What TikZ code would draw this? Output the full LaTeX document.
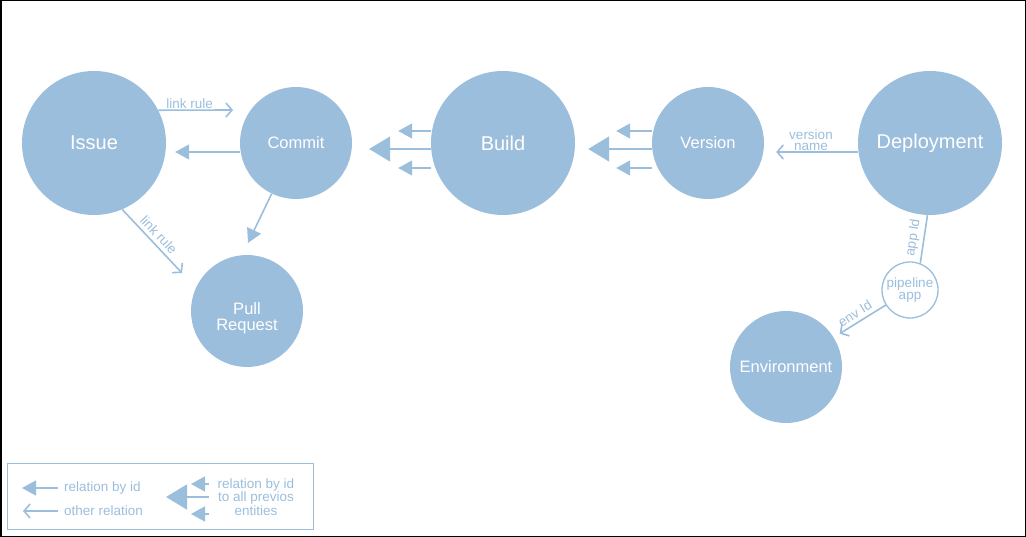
\documentclass[tikz,border=0pt]{standalone}
\usepackage{fontspec}
\setmainfont{Liberation Sans}
\usetikzlibrary{arrows.meta}
\definecolor{entityblue}{RGB}{155,190,220}
\pgfdeclarelayer{edgelayer}
\pgfdeclarelayer{nodelayer}
\pgfsetlayers{edgelayer,nodelayer,main}
\tikzstyle{bigentity}=[circle, fill=entityblue, text=white, inner sep=0pt, minimum size=144pt, font=\fontsize{20}{22}\selectfont]
\tikzstyle{entity}=[circle, fill=entityblue, text=white, inner sep=0pt, minimum size=112pt, align=center, font=\fontsize{16.5}{15.5}\selectfont]
\tikzstyle{helper}=[circle, fill=white, draw=entityblue, line width=1.3pt, text=entityblue, inner sep=0pt, minimum size=56pt, align=center, font=\fontsize{13.5}{12}\selectfont]
\tikzstyle{edge}=[draw=entityblue, line width=1.6pt]
\tikzstyle{idedge}=[draw=entityblue, line width=1.6pt, -{Triangle[length=14pt,width=15pt]}]
\tikzstyle{alledge}=[draw=entityblue, line width=1.6pt, -{Triangle[length=21pt,width=25pt]}]
\tikzstyle{otheredge}=[draw=entityblue, line width=1.6pt, -{Straight Barb[length=6pt,width=14pt]}]
\tikzstyle{edgelabel}=[text=entityblue, inner sep=1pt, font=\fontsize{13.5}{11}\selectfont]
\tikzstyle{slopedlabel}=[text=entityblue, inner sep=3.5pt, sloped, above, font=\fontsize{13.5}{11}\selectfont]
\tikzstyle{legendtext}=[text=entityblue, inner sep=1pt, font=\fontsize{13.5}{12.5}\selectfont]

\begin{document}
\begin{tikzpicture}[x=1pt, y=-1pt]
	\useasboundingbox (0,0) rectangle (1026,537);
	\draw [black, line width=1.5pt] (0.75,0.75) rectangle (1025.25,536.25);
	\begin{pgfonlayer}{nodelayer}
		\node [style=bigentity] (issue) at (94,143) {Issue};
		\node [style=entity] (commit) at (296,143) {Commit};
		\node [style=bigentity] (build) at (503,143) {Build};
		\node [style=entity] (version) at (708,143) {Version};
		\node [style=bigentity] (deploy) at (930,143) {Deployment};
		\node [style=entity] (pullrequest) at (247,311) {\rule{0pt}{26pt}Pull\\Request};
		\node [style=entity] (environment) at (786,367) {Environment};
		\node [style=helper] (pipeline) at (910,290) {pipeline\\app};
	\end{pgfonlayer}
	\coordinate (linktip) at (233,110);
	\coordinate (prtip) at (248,243);
	\coordinate (ruletip) at (182,273);
	\begin{pgfonlayer}{edgelayer}
		\draw [style=otheredge] (issue.27) to node [style=edgelabel, above, pos=0.42] {link rule} (linktip);
		\draw [style=idedge, shorten >=9pt] ([yshift=-9pt]commit.west) to ([yshift=-9pt]issue.east);
		\draw [style=idedge] (commit) to (prtip);
		\draw [style=otheredge] (issue.-67) to node [style=slopedlabel] {link rule} (ruletip);
		\draw [style=idedge, shorten >=46pt] ([yshift=12pt]build.west) to ([yshift=12pt]commit.east);
		\draw [style=alledge, shorten >=17pt] ([yshift=-6pt]build.west) to ([yshift=-6pt]commit.east);
		\draw [style=idedge, shorten >=46pt] ([yshift=-25pt]build.west) to ([yshift=-25pt]commit.east);
		\draw [style=idedge, shorten >=41pt] ([yshift=12pt]version.west) to ([yshift=12pt]build.east);
		\draw [style=alledge, shorten >=13pt] ([yshift=-6pt]version.west) to ([yshift=-6pt]build.east);
		\draw [style=idedge, shorten >=41pt] ([yshift=-25pt]version.west) to ([yshift=-25pt]build.east);
		\draw [style=otheredge, shorten >=12pt] ([yshift=-9pt]deploy.west) to node [style=edgelabel, above, align=center] {version\\name} ([yshift=-9pt]version.east);
		\draw [style=edge] (deploy.-92) to node [style=slopedlabel] {app Id} (pipeline.69);
		\draw [style=otheredge, shorten >=7pt] (pipeline) to node [style=slopedlabel] {env Id} (environment);
	\end{pgfonlayer}
	% legend
	\draw [draw=entityblue, line width=1pt] (7,463) rectangle (313,529);
	\node [style=legendtext, anchor=west] (byid) at (63,488) {relation by id};
	\node [style=legendtext, anchor=west] (other) at (63,511) {other relation};
	\node [style=legendtext, align=center] (allprev) at (256,497) {relation by id\\to all previos\\entities};
	\coordinate (byidtip) at (22,488);
	\coordinate (othertip) at (23,511);
	\coordinate (alltip) at (166,497);
	\coordinate (uptip) at (191,484);
	\coordinate (downtip) at (191,514);
	\draw [style=idedge, shorten <=5pt] (byid.west) to (byidtip);
	\draw [style=otheredge, shorten <=5pt] (other.west) to (othertip);
	\draw [style=alledge, shorten <=8pt] (allprev.west) to (alltip);
	\draw [style=idedge, shorten <=8pt] (allprev.west |- uptip) to (uptip);
	\draw [style=idedge, shorten <=8pt] (allprev.west |- downtip) to (downtip);
\end{tikzpicture}
\end{document}
